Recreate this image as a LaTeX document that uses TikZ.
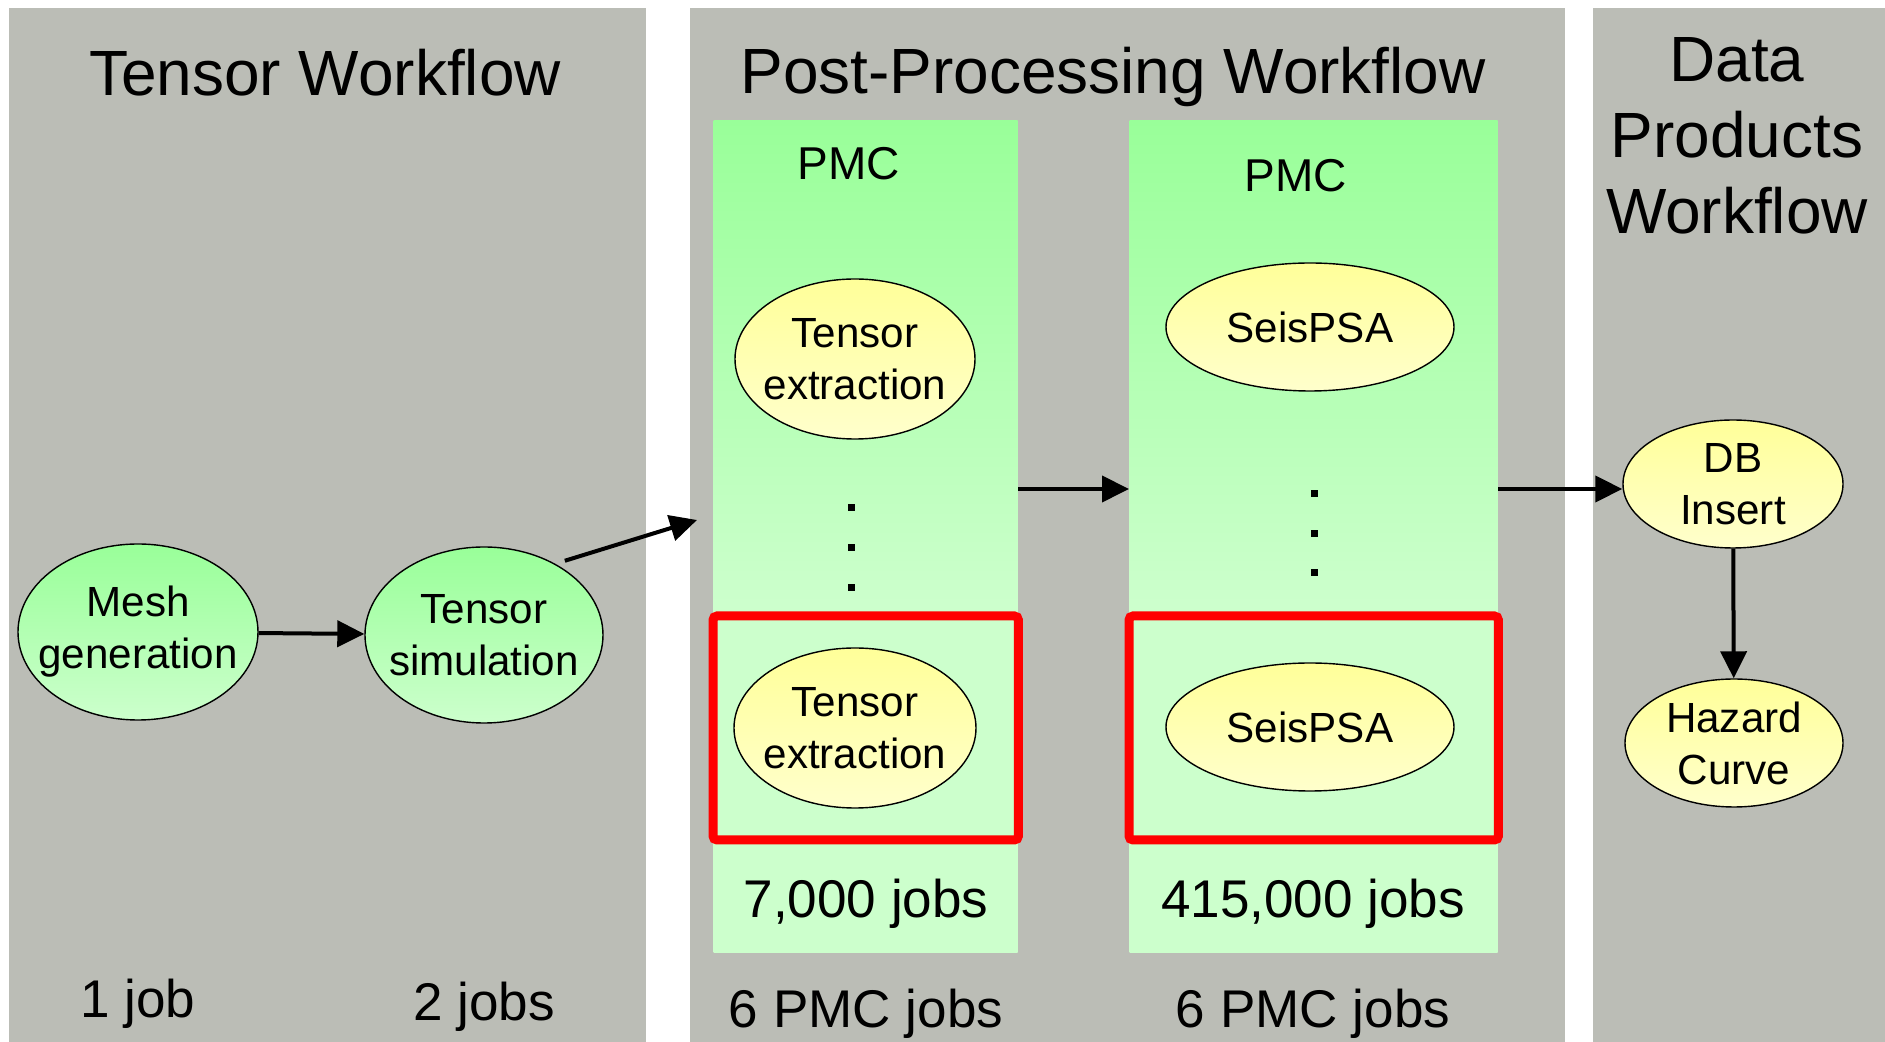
\documentclass[tikz,border=0pt]{standalone}
\usepackage{fontspec}
\setmainfont{Liberation Sans}
\usepackage{xcolor}
\usepackage{tikz}
\usetikzlibrary{positioning, arrows.meta, shapes.geometric}
\definecolor{panelGray}{RGB}{187,189,182}
\definecolor{pmcGreen}{RGB}{153,255,153}
\definecolor{pmcPale}{RGB}{204,255,204}
\definecolor{jobYellow}{RGB}{255,255,153}
\definecolor{jobPale}{RGB}{255,255,204}
\definecolor{frameRed}{RGB}{255,0,0}

% fades from green at the top to pale green, then stays pale
\pgfdeclareverticalshading{pmcfade}{100bp}{color(0bp)=(pmcPale); color(46bp)=(pmcPale); color(75bp)=(pmcGreen); color(100bp)=(pmcGreen)}

\tikzset{
    panel/.style={
        fill=panelGray,
        draw=none
    },
    pmccol/.style={
        rectangle,
        shade,
        shading=pmcfade,
        draw=none,
        inner sep=0pt,
        anchor=north west
    },
    jobnode/.style={
        ellipse,
        draw,
        thin,
        inner xsep=-3mm,
        inner ysep=0pt,
        align=center,
        font=\fontsize{12}{14.8}\selectfont
    },
    simnode/.style={
        jobnode,
        top color=pmcGreen,
        bottom color=pmcPale
    },
    pmcnode/.style={
        jobnode,
        top color=jobYellow,
        bottom color=jobPale
    },
    redframe/.style={
        draw=frameRed,
        line width=0.9mm,
        rounded corners=0.4mm
    },
    title/.style={
        font=\fontsize{18.2}{21.6}\selectfont,
        align=center
    },
    count/.style={
        font=\fontsize{15.1}{18}\selectfont,
        anchor=base
    },
    pmclabel/.style={
        font=\fontsize{13.1}{15.7}\selectfont,
        anchor=base
    },
    ptr/.style={
        -{Triangle[length=2.7mm, width=2.6mm]},
        line width=0.4mm
    }
}

\begin{document}
\begin{tikzpicture}[x=0.1mm, y=-0.1mm]
        \useasboundingbox (0,0) rectangle (1885,1042);

        % the three workflows
        \fill[panel] (9,8) rectangle (646,1042);
        \fill[panel] (690,8) rectangle (1565,1042);
        \fill[panel] (1593,8) rectangle (1885,1042);

        % PMC columns
        \node[pmccol, minimum width=30.4mm, minimum height=83.2mm] (col1) at (713,120) {};
        \node[pmccol, minimum width=36.8mm, minimum height=83.2mm] (col2) at (1129,120) {};
        \draw[redframe] (col1.west |- 0,616) rectangle (col1.east |- 0,840);
        \draw[redframe] (col2.west |- 0,616) rectangle (col2.east |- 0,840);

        \node[title, anchor=base] (tensorTitle) at (325,96) {Tensor Workflow};
        \node[title, anchor=base] (postTitle) at (1113,94) {Post-Processing Workflow};
        \node[title] (dataTitle) at (1737,136) {Data\\Products\\Workflow};

        \node[pmclabel] (pmc1) at (849,180) {PMC};
        \node[pmclabel] (pmc2) at (1296,192) {PMC};

        \node[simnode, minimum width=24mm, minimum height=17.6mm] (mesh) at (138,632) {Mesh\\generation};
        \node[simnode, minimum width=23.8mm, minimum height=17.6mm] (tsim) at (484,635) {Tensor\\simulation};

        \node[pmcnode, minimum width=24mm, minimum height=16mm] (extTop) at (855,359) {Tensor\\extraction};
        \node[pmcnode, minimum width=24.2mm, minimum height=16mm] (extBot) at (855,728) {Tensor\\extraction};
        \node[pmcnode, minimum width=28.8mm, minimum height=12.8mm] (seisTop) at (1310,327) {SeisPSA};
        \node[pmcnode, minimum width=28.8mm, minimum height=12.8mm] (seisBot) at (1310,727) {SeisPSA};

        \node[pmcnode, minimum width=22mm, minimum height=12.8mm] (dbInsert) at (1733,484) {DB\\Insert};
        \node[pmcnode, minimum width=21.8mm, minimum height=12.8mm] (hazard) at (1734,743) {Hazard\\Curve};

        % elided tasks
        \foreach \y in {507,547,587}
            \fill (848,\y-3) rectangle ++(7,7);
        \foreach \y in {493,533,572}
            \fill (1311,\y-3) rectangle ++(7,7);

        \node[count] (jobs1) at (mesh.center |- 0,1018) {1 job};
        \node[count] (jobs2) at (tsim.center |- 0,1021) {2 jobs};
        \node[count] (extJobs) at (866,918) {7,000 jobs};
        \node[count] (seisJobs) at (1313,918) {415,000 jobs};
        \node[count] (extPmc) at (866,1028) {6 PMC jobs};
        \node[count] (seisPmc) at (1313,1028) {6 PMC jobs};

        \coordinate (intoPmc) at (697,520);
        \coordinate (midLine) at (0,489);

        \draw[ptr] (mesh) -- (tsim);
        \draw[ptr, shorten <=1mm] (tsim.45) -- (intoPmc);
        \draw[ptr] (col1.east |- midLine) -- (col2.west |- midLine);
        \draw[ptr] (col2.east |- midLine) -- (dbInsert.west |- midLine);
        \draw[ptr] (dbInsert) -- (hazard);
    \end{tikzpicture}
\end{document}
